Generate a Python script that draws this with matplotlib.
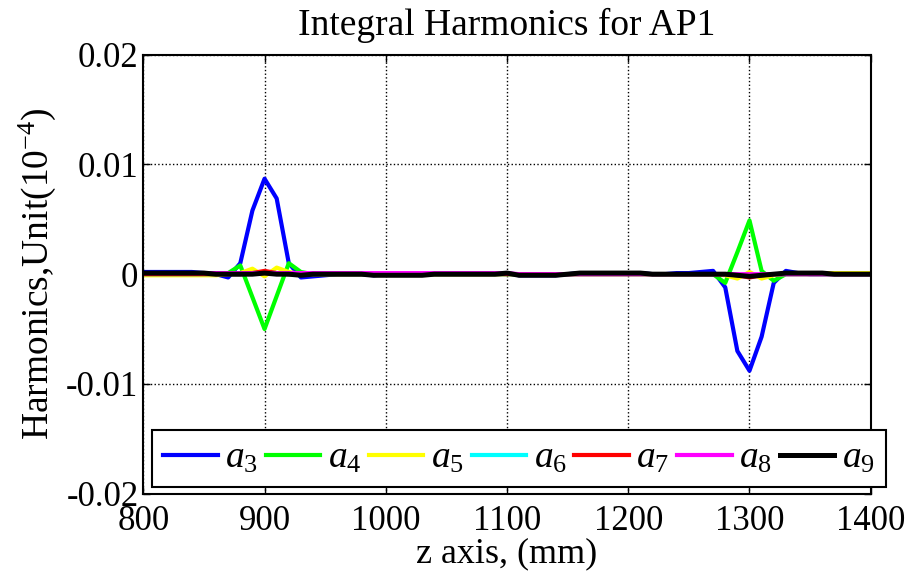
import numpy as np
import matplotlib
matplotlib.use('Agg')
import matplotlib.pyplot as plt

plt.rcParams['font.family'] = 'Liberation Serif'
plt.rcParams['mathtext.fontset'] = 'custom'
plt.rcParams['mathtext.rm'] = 'Liberation Serif'
plt.rcParams['mathtext.it'] = 'Liberation Serif:italic'

# z positions (mm)
z = [800, 810, 820, 830, 840, 850, 860, 870, 880, 890,
     900, 910, 920, 930, 940, 950, 960, 970, 980, 990,
     1000, 1010, 1020, 1030, 1040, 1050, 1060, 1070, 1080, 1090,
     1100, 1110, 1120, 1130, 1140, 1150, 1160, 1170, 1180, 1190,
     1200, 1210, 1220, 1230, 1240, 1250, 1260, 1270, 1280, 1290,
     1300, 1310, 1320, 1330, 1340, 1350, 1360, 1370, 1380, 1390,
     1400]

a3 = [0.0002, 0.0002, 0.0002, 0.0002, 0.0002, 0.0001, 0.0000, -0.0003, 0.0010, 0.0058,
      0.0087, 0.0069, 0.0010, -0.0003, -0.0002, -0.0001, 0.0000, 0.0000, 0.0000, -0.0001,
      0.0000, 0.0000, 0.0000, 0.0001, 0.0001, 0.0001, 0.0001, 0.0001, 0.0001, 0.0001,
      0.0001, -0.0001, -0.0001, -0.0001, -0.0001, 0.0000, 0.0001, 0.0001, 0.0001, 0.0001,
      0.0001, 0.0001, 0.0000, 0.0000, 0.0001, 0.0001, 0.0002, 0.0003, -0.0012, -0.0070,
      -0.0088, -0.0057, -0.0008, 0.0003, 0.0001, 0.0000, 0.0000, 0.0000, 0.0000, 0.0000,
      0.0000]
a4 = [0.0000, 0.0000, 0.0000, 0.0000, 0.0000, 0.0000, 0.0000, 0.0001, 0.0008, -0.0021,
      -0.0050, -0.0020, 0.0010, 0.0002, 0.0000, 0.0000, 0.0000, 0.0000, 0.0000, 0.0000,
      0.0000, 0.0000, 0.0000, 0.0000, 0.0000, 0.0000, 0.0000, 0.0000, 0.0000, 0.0000,
      0.0000, 0.0000, 0.0000, 0.0000, 0.0000, 0.0000, 0.0000, 0.0000, 0.0000, 0.0000,
      0.0000, 0.0000, 0.0000, 0.0000, 0.0000, 0.0000, 0.0000, 0.0000, -0.0008, 0.0020,
      0.0049, 0.0003, -0.0006, 0.0000, 0.0000, 0.0000, 0.0000, 0.0000, 0.0000, 0.0000,
      0.0000]
a5 = [-0.0001, -0.0001, -0.0001, -0.0001, -0.0001, -0.0001, -0.0001, 0.0000, 0.0001, 0.0005,
      -0.0002, 0.0006, 0.0002, 0.0000, 0.0000, 0.0000, 0.0000, 0.0000, 0.0000, 0.0000,
      0.0000, 0.0000, 0.0000, 0.0000, 0.0000, 0.0000, 0.0000, 0.0000, 0.0000, 0.0000,
      0.0000, 0.0000, 0.0000, 0.0000, 0.0000, 0.0000, 0.0000, 0.0000, 0.0000, 0.0000,
      0.0000, 0.0000, 0.0000, 0.0000, 0.0000, 0.0000, 0.0000, 0.0000, -0.0001, -0.0004,
      0.0002, -0.0004, -0.0001, 0.0001, 0.0001, 0.0001, 0.0001, 0.0001, 0.0001, 0.0001,
      0.0001]
a6 = [0.0000, 0.0000, 0.0000, 0.0000, 0.0000, 0.0000, 0.0000, 0.0000, 0.0000, 0.0001,
      0.0002, 0.0001, 0.0000, 0.0000, 0.0000, 0.0000, 0.0000, 0.0000, 0.0000, 0.0000,
      0.0000, 0.0000, 0.0000, 0.0000, 0.0000, 0.0000, 0.0000, 0.0000, 0.0000, 0.0000,
      0.0000, 0.0000, 0.0000, 0.0000, 0.0000, 0.0000, 0.0000, 0.0000, 0.0000, 0.0000,
      0.0000, 0.0000, 0.0000, 0.0000, 0.0000, 0.0000, 0.0000, 0.0000, 0.0000, -0.0001,
      -0.0001, -0.0001, 0.0000, 0.0000, 0.0000, 0.0000, 0.0000, 0.0000, 0.0000, 0.0000,
      0.0000]
a7 = [0.0000, 0.0000, 0.0000, 0.0000, 0.0000, 0.0000, 0.0000, 0.0000, 0.0000, 0.0001,
      0.0003, 0.0001, 0.0000, 0.0000, 0.0000, 0.0000, 0.0000, 0.0000, 0.0000, 0.0000,
      0.0000, 0.0000, 0.0000, 0.0000, 0.0000, 0.0000, 0.0000, 0.0000, 0.0000, 0.0000,
      0.0000, 0.0000, 0.0000, 0.0000, 0.0000, 0.0000, 0.0000, 0.0000, 0.0000, 0.0000,
      0.0000, 0.0000, 0.0000, 0.0000, 0.0000, 0.0000, 0.0000, 0.0000, 0.0000, -0.0001,
      -0.0003, -0.0001, 0.0000, 0.0000, 0.0000, 0.0000, 0.0000, 0.0000, 0.0000, 0.0000,
      0.0000]
a8 = [0.0001, 0.0001, 0.0001, 0.0001, 0.0001, 0.0001, 0.0001, 0.0001, 0.0001, 0.0001,
      0.0001, 0.0001, 0.0001, 0.0001, 0.0001, 0.0001, 0.0001, 0.0001, 0.0001, 0.0001,
      0.0001, 0.0001, 0.0001, 0.0001, 0.0001, 0.0001, 0.0001, 0.0001, 0.0001, 0.0001,
      0.0001, 0.0000, 0.0000, 0.0000, 0.0000, 0.0000, 0.0000, 0.0000, 0.0000, 0.0000,
      0.0000, 0.0000, 0.0000, 0.0000, 0.0000, 0.0000, 0.0000, 0.0000, 0.0000, 0.0000,
      0.0000, 0.0000, 0.0000, 0.0000, 0.0000, 0.0000, 0.0000, 0.0000, 0.0000, 0.0000,
      0.0000]
a9 = [0.0001, 0.0001, 0.0001, 0.0001, 0.0001, 0.0001, 0.0000, 0.0000, 0.0000, 0.0000,
      0.0001, 0.0000, 0.0000, -0.0001, 0.0000, 0.0000, 0.0000, 0.0000, 0.0000, -0.0001,
      -0.0001, -0.0001, -0.0001, -0.0001, 0.0000, 0.0000, 0.0000, 0.0000, 0.0000, 0.0000,
      0.0001, -0.0001, -0.0001, -0.0001, -0.0001, 0.0000, 0.0001, 0.0001, 0.0001, 0.0001,
      0.0001, 0.0001, 0.0000, 0.0000, 0.0000, 0.0000, 0.0000, 0.0000, 0.0000, -0.0001,
      -0.0002, -0.0001, 0.0000, 0.0001, 0.0001, 0.0001, 0.0001, 0.0000, 0.0000, 0.0000,
      0.0000]

series = [a3, a4, a5, a6, a7, a8, a9]
labels = ['$a_3$', '$a_4$', '$a_5$', '$a_6$', '$a_7$', '$a_8$', '$a_9$']
colors = ['#0000ff', '#00ff00', '#ffff00', '#00ffff', '#ff0000', '#ff00ff', '#000000']

fig = plt.figure(figsize=(9.07, 5.76), dpi=100)
ax = fig.add_axes([0.158, 0.143, 0.802, 0.762])

for s, lab, c in zip(series, labels, colors):
    lw = 3.6 if c == '#000000' else 3.0
    ax.plot(z, s, color=c, lw=lw, label=lab)

ax.set_xlim(800, 1400)
ax.set_ylim(-0.02, 0.02)
ax.set_xticks([800, 900, 1000, 1100, 1200, 1300, 1400])
ax.set_yticks([-0.02, -0.01, 0, 0.01, 0.02])
ax.set_yticklabels(['-0.02', '-0.01', '0', '0.01', '0.02'])
ax.tick_params(direction='in', top=True, right=True, labelsize=25, length=5, width=1)
ax.tick_params(axis='x', pad=8)
ax.grid(True, color='black', linestyle=':', linewidth=1)
for sp in ax.spines.values():
    sp.set_linewidth(1.5)

ax.set_title('Integral Harmonics for AP1', fontsize=27, pad=14)
ax.set_xlabel('z axis, (mm)', fontsize=26, labelpad=0)
ax.set_ylabel('Harmonics,Unit(10$^{-4}$)', fontsize=27, labelpad=6)

leg = ax.legend(loc='lower left', bbox_to_anchor=(0.012, 0.0144, 1.0087, 0.146),
                mode='expand', ncol=7, fontsize=27, handlelength=1.45,
                handletextpad=0.2, columnspacing=0.2, borderaxespad=0,
                borderpad=0.3, fancybox=False, framealpha=1, edgecolor='black')
leg.get_frame().set_linewidth(1.5)

plt.savefig('out.png', dpi=100)
